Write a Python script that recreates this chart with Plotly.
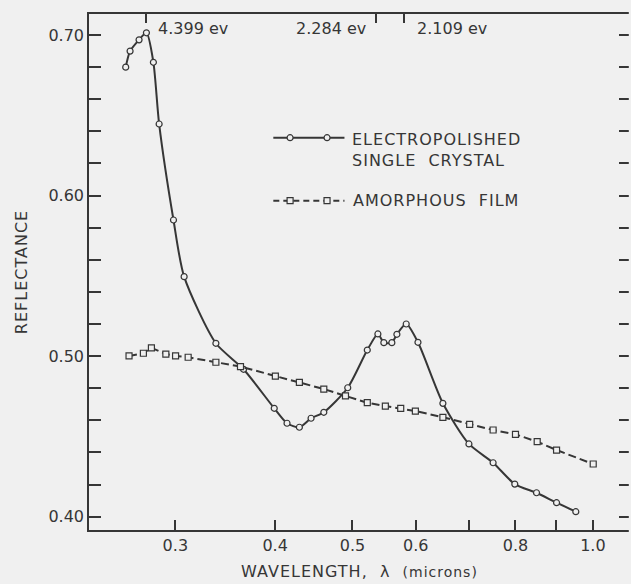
import numpy as np
import plotly.graph_objects as go

# ---------------- data ----------------
crystal_wl = [0.260, 0.2633, 0.2702, 0.276, 0.2816, 0.2863, 0.2984, 0.3077, 0.3372,
              0.3652, 0.399, 0.414, 0.429, 0.4437, 0.4603, 0.4932, 0.5218, 0.538,
              0.5473, 0.5601, 0.5683, 0.5838, 0.6039, 0.6489, 0.6995, 0.750, 0.7984,
              0.850, 0.9006, 0.952]
crystal_R = [0.680, 0.690, 0.697, 0.7014, 0.683, 0.6446, 0.5848, 0.5495, 0.508,
             0.4918, 0.4675, 0.4582, 0.4557, 0.4613, 0.465, 0.4803, 0.5038, 0.5138,
             0.5084, 0.5084, 0.5136, 0.520, 0.5086, 0.4706, 0.4453, 0.4336, 0.4203,
             0.4149, 0.4087, 0.4031]

film_wl = [0.2625, 0.2736, 0.280, 0.2919, 0.3002, 0.3113, 0.3372, 0.362, 0.4003,
           0.429, 0.4603, 0.490, 0.5218, 0.5497, 0.5746, 0.5994, 0.6489, 0.701,
           0.750, 0.800, 0.8517, 0.9006, 1.001]
film_R = [0.5001, 0.5018, 0.5052, 0.5013, 0.5001, 0.4993, 0.4962, 0.4935, 0.4876,
          0.4837, 0.4795, 0.4752, 0.471, 0.4689, 0.4675, 0.4658, 0.4619, 0.4575,
          0.454, 0.4513, 0.4467, 0.4415, 0.4328]

x_tickvals = [0.3, 0.4, 0.5, 0.6, 0.7, 0.8, 0.9, 1.0]
x_ticktext = ["0.3", "0.4", "0.5", "0.6", "", "0.8", "", "1.0"]
y_major = [0.40, 0.50, 0.60, 0.70]
y_major_text = ["0.40", "0.50", "0.60", "0.70"]
y_minor = [round(0.40 + 0.02 * i, 2) for i in range(16)]

ev_labels = ["4.399 ev", "2.284 ev", "2.109 ev"]
ev_wl = [0.2754, 0.5343, 0.5793]

legend_names = ["ELECTROPOLISHED<br>SINGLE  CRYSTAL", "AMORPHOUS  FILM"]

# ---------------- style ----------------
BG = "#f0f0f0"
INK = "#363636"
NONE = "rgba(0,0,0,0)"
FONT = "DejaVu Sans"
XR = [-0.6310, 0.0465]
YR = [0.3917, 0.7131]
SP = "letter-spacing:1px"


def spaced(t):
    return "<br>".join(f"<span style='{SP}'>{part}</span>" for part in t.split("<br>"))


fig = go.Figure()

fig.add_trace(go.Scatter(
    x=crystal_wl, y=crystal_R, mode="lines+markers",
    line=dict(color=INK, width=2.0, shape="spline", smoothing=0.7),
    marker=dict(symbol="circle", size=6, color=BG, line=dict(color=INK, width=1.2)),
    showlegend=False))

fig.add_trace(go.Scatter(
    x=film_wl, y=film_R, mode="lines+markers",
    line=dict(color=INK, width=2.0, dash="8px,4px"),
    marker=dict(symbol="square", size=6, color=BG, line=dict(color=INK, width=1.2)),
    showlegend=False))

# empty helper traces so the top and right tick axes get drawn
fig.add_trace(go.Scatter(x=[None], y=[None], xaxis="x2", yaxis="y",
                         mode="markers", showlegend=False, hoverinfo="skip"))
fig.add_trace(go.Scatter(x=[None], y=[None], xaxis="x", yaxis="y2",
                         mode="markers", showlegend=False, hoverinfo="skip"))

# legend samples on a hidden 0..1 overlay axis pair
leg_x_line = [0.3407, 0.4722]
leg_x_mark = [0.3717, 0.44]
leg_y = [0.7603, 0.6382]
leg_text_x = [0.4828, 0.4852]
leg_text_y = [0.736, 0.6382]

fig.add_trace(go.Scatter(x=leg_x_line, y=[leg_y[0]] * 2, mode="lines",
                         line=dict(color=INK, width=2.0), xaxis="x3", yaxis="y3",
                         showlegend=False, hoverinfo="skip"))
fig.add_trace(go.Scatter(x=leg_x_mark, y=[leg_y[0]] * 2, mode="markers",
                         marker=dict(symbol="circle", size=6, color=BG,
                                     line=dict(color=INK, width=1.2)),
                         xaxis="x3", yaxis="y3", showlegend=False, hoverinfo="skip"))
fig.add_trace(go.Scatter(x=leg_x_line, y=[leg_y[1]] * 2, mode="lines",
                         line=dict(color=INK, width=2.0, dash="6px,4px"),
                         xaxis="x3", yaxis="y3", showlegend=False, hoverinfo="skip"))
fig.add_trace(go.Scatter(x=leg_x_mark, y=[leg_y[1]] * 2, mode="markers",
                         marker=dict(symbol="square", size=6, color=BG,
                                     line=dict(color=INK, width=1.2)),
                         xaxis="x3", yaxis="y3", showlegend=False, hoverinfo="skip"))

annotations = []
for name, tx, ty in zip(legend_names, leg_text_x, leg_text_y):
    annotations.append(dict(text=spaced(name), x=tx, y=ty, xref="x3", yref="y3",
                            xanchor="left", yanchor="middle", showarrow=False,
                            align="left", font=dict(family=FONT, size=16, color=INK)))

ev_anchor = ["left", "right", "left"]
ev_shift = [10, -8, 11]
for lab, wl, anc, sh in zip(ev_labels, ev_wl, ev_anchor, ev_shift):
    annotations.append(dict(text=lab, x=float(np.log10(wl)), y=0.972, xref="x",
                            yref="paper", xanchor=anc, yanchor="middle", xshift=sh,
                            showarrow=False, font=dict(family=FONT, size=16, color=INK)))

# thin background strip hiding the right frame edge (the reference shows no right line)
shapes = [dict(type="rect", xref="paper", yref="paper", xsizemode="pixel",
               xanchor=1, x0=-1.2, x1=4, y0=-0.01, y1=1.01,
               fillcolor=BG, line=dict(width=0), layer="above")]

axis_common = dict(showgrid=False, zeroline=False)
hidden = dict(visible=False, showline=False, showgrid=False, zeroline=False,
              showticklabels=False, ticks="", linecolor=NONE, linewidth=0)

fig.update_layout(
    width=631, height=584,
    margin=dict(l=89, r=1, t=14, b=54),
    paper_bgcolor=BG, plot_bgcolor=BG,
    font=dict(family=FONT, size=16, color=INK),
    showlegend=False,
    annotations=annotations,
    shapes=shapes,
    xaxis=dict(type="log", range=XR, showline=True, linecolor=INK, linewidth=1.6,
               mirror=False, ticks="inside", ticklen=10, tickwidth=1.5, tickcolor=INK,
               tickvals=x_tickvals, ticktext=x_ticktext,
               tickfont=dict(family=FONT, size=16, color=INK),
               title=dict(text=f"<span style='{SP}'>WAVELENGTH,  λ  </span>"
                               f"<span style='font-size:14px;{SP}'>(microns)</span>",
                          font=dict(family=FONT, size=16, color=INK), standoff=12),
               **axis_common),
    yaxis=dict(range=YR, showline=True, linecolor=INK, linewidth=1.6, mirror=False,
               ticks="inside", ticklen=12, tickwidth=1.5, tickcolor=INK,
               tickvals=y_major, ticktext=y_major_text,
               tickfont=dict(family=FONT, size=16, color=INK),
               minor=dict(tickvals=y_minor, ticks="inside", ticklen=12, tickwidth=1.5,
                          tickcolor=INK),
               title=dict(text=f"<span style='{SP}'>REFLECTANCE</span>",
                          font=dict(family=FONT, size=16, color=INK), standoff=17),
               **axis_common),
    xaxis2=dict(type="log", range=XR, overlaying="x", side="top", anchor="y",
                ticks="inside", ticklen=9, tickwidth=1.5, tickcolor=INK,
                tickvals=ev_wl, showticklabels=False, showline=True, linecolor=INK,
                linewidth=1.6, mirror=False, **axis_common),
    yaxis2=dict(range=YR, overlaying="y", side="right", anchor="x",
                ticks="inside", ticklen=11, tickwidth=1.5, tickcolor=INK,
                tickvals=y_minor, showticklabels=False, showline=False,
                linecolor=NONE, linewidth=0, mirror=False, **axis_common),
    xaxis3=dict(range=[0, 1], overlaying="x", anchor="y3", **hidden),
    yaxis3=dict(range=[0, 1], overlaying="y", anchor="x3", **hidden),
)

fig.write_html("out.html")
